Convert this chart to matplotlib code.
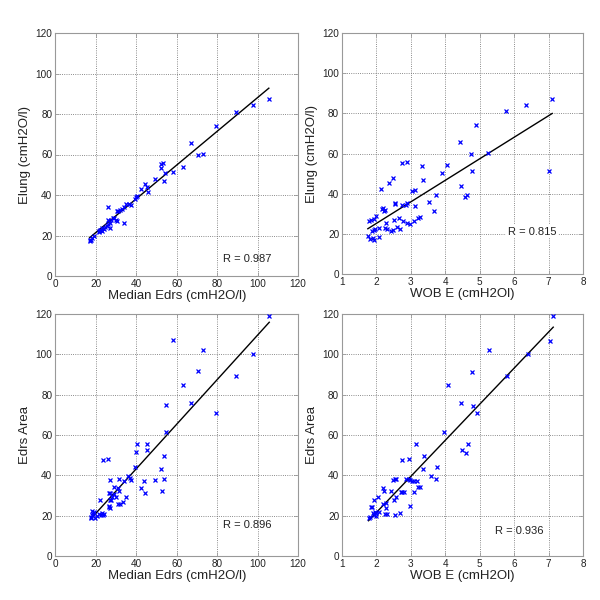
import numpy as np
import matplotlib
matplotlib.use('Agg')
import matplotlib.pyplot as plt

plt.rcParams['font.family'] = ['Liberation Sans', 'DejaVu Sans']

# panel 1: Median Edrs vs Elung
edrs1 = [105.5, 97.7, 89.5, 79.3, 73.0, 70.5, 67.2, 63.1, 58.2, 54.4, 53.9, 53.4, 52.2, 52.2, 49.3,
         44.3, 45.2, 45.8, 42.4, 39.9, 39.6, 36.3, 35.1, 34.0, 33.1, 32.1, 31.2, 30.3, 33.8, 26.2,
         30.7, 30.2, 28.4, 27.7, 26.9, 26.2, 25.5, 27.0, 25.9, 23.2, 22.6, 21.8, 22.3, 23.1, 23.9,
         19.0, 18.1, 17.6, 17.3, 17.0, 24.5, 28.9, 21.5, 37.5, 40.5]
elung1 = [87.2, 84.2, 81.2, 74.3, 60.3, 59.9, 65.9, 54.0, 51.2, 51.0, 46.7, 56.0, 55.3, 53.2, 47.9,
          45.6, 44.1, 41.6, 42.8, 39.1, 38.0, 35.8, 35.5, 34.2, 33.3, 32.8, 32.0, 32.2, 26.2, 34.3,
          27.2, 27.6, 28.4, 27.9, 26.2, 25.6, 24.8, 23.8, 27.6, 23.8, 22.9, 22.3, 22.6, 22.3, 23.1,
          19.6, 19.0, 18.0, 17.7, 17.3, 24.0, 28.6, 21.5, 35.2, 39.3]

# panel 2: WOB E vs Elung
wob2 = [7.1, 6.35, 5.77, 4.9, 5.25, 4.73, 4.42, 4.05, 3.9, 4.78, 7.0, 4.44, 4.63, 4.57, 3.72,
        3.68, 3.53, 3.36, 3.33, 2.89, 2.75, 2.47, 2.36, 2.14, 3.02, 3.11, 2.54, 2.55, 2.89, 2.86,
        2.75, 3.13, 2.17, 2.23, 2.2, 2.25, 1.99, 1.83, 1.92, 1.77, 2.52, 2.65, 2.27, 2.77, 2.9,
        2.97, 3.08, 3.2, 3.25, 2.07, 1.97, 2.25, 2.3, 2.47, 2.42, 2.6, 2.69, 1.87, 1.92, 1.75,
        1.82, 1.9, 1.93, 2.07]
elung2 = [87.3, 84.0, 81.2, 74.2, 60.1, 59.8, 65.7, 54.1, 50.1, 51.1, 51.1, 44.1, 39.3, 38.2, 39.2,
          31.2, 36.0, 46.8, 53.8, 55.9, 55.3, 47.8, 45.6, 42.5, 41.5, 41.7, 35.4, 34.7, 35.4, 34.2,
          34.2, 34.0, 32.5, 31.5, 33.0, 32.0, 28.9, 27.0, 27.6, 26.6, 27.2, 28.0, 25.7, 26.4, 25.4,
          25.2, 26.4, 27.9, 28.4, 23.2, 22.4, 22.9, 22.6, 22.2, 21.6, 23.7, 22.7, 21.7, 22.0, 19.1,
          17.4, 17.9, 17.1, 18.3]

# panel 3: Median Edrs vs Edrs Area
edrs3 = [105.7, 97.6, 89.3, 79.3, 73.2, 70.4, 67.1, 63.1, 58.2, 54.6, 54.6, 53.9, 53.6, 52.4, 52.6,
         49.3, 45.3, 45.2, 40.5, 40.0, 39.2, 43.7, 42.4, 44.5, 36.1, 36.8, 37.3, 34.1, 31.3, 34.9,
         33.3, 31.8, 30.8, 27.2, 30.8, 31.3, 28.8, 26.4, 27.0, 28.8, 29.8, 27.9, 27.2, 27.5, 23.6,
         25.9, 22.3, 26.4, 27.2, 26.8, 19.0, 17.5, 18.0, 18.5, 19.5, 20.5, 21.5, 22.5, 23.0, 23.5,
         24.0, 17.8, 18.3]
area3 = [119.0, 100.1, 89.2, 70.7, 102.3, 91.5, 75.8, 84.9, 106.8, 74.8, 61.7, 49.7, 38.1, 43.0, 32.1,
         37.9, 55.3, 52.5, 55.3, 51.5, 44.2, 37.1, 33.8, 31.4, 39.7, 38.6, 37.9, 37.1, 38.2, 29.3,
         26.6, 25.8, 26.0, 37.6, 33.8, 32.1, 34.3, 31.4, 31.4, 31.0, 29.3, 29.3, 27.6, 28.0, 47.5,
         48.2, 27.6, 24.3, 24.0, 24.8, 21.8, 19.5, 20.5, 21.0, 19.0, 20.0, 21.0, 20.2, 21.5, 20.5,
         21.0, 19.0, 22.5]

# panel 4: WOB E vs Edrs Area
wob4 = [7.13, 7.03, 6.4, 5.79, 5.26, 4.77, 4.08, 4.44, 4.8, 4.93, 3.95, 4.66, 4.48, 4.61, 3.14,
        3.39, 3.75, 3.35, 3.58, 3.72, 2.93, 2.73, 3.17, 3.08, 3.03, 2.87, 2.93, 2.98, 2.53, 2.57,
        2.49, 3.1, 3.22, 3.26, 2.75, 2.79, 2.7, 2.98, 2.43, 2.5, 2.58, 2.18, 2.23, 2.29, 2.19,
        2.04, 1.92, 1.83, 1.87, 2.29, 2.3, 2.25, 2.53, 2.67, 1.9, 1.95, 2.0, 2.08, 1.77, 1.82,
        1.92, 2.0]
area4 = [118.7, 106.4, 100.0, 89.2, 102.1, 91.2, 84.7, 75.8, 74.6, 70.7, 61.7, 55.3, 52.6, 51.3, 55.3,
         49.5, 44.4, 43.0, 39.7, 38.4, 48.3, 47.7, 37.2, 37.1, 37.1, 38.0, 38.0, 37.5, 38.0, 38.3,
         37.8, 31.8, 34.3, 34.3, 32.0, 31.8, 32.0, 25.0, 32.1, 28.0, 29.3, 33.8, 32.1, 26.3, 26.0,
         29.3, 27.6, 24.5, 24.5, 23.8, 21.0, 21.0, 20.4, 21.4, 21.5, 21.8, 21.2, 21.8, 19.0, 19.5,
         20.5, 20.0]

r_labels = ['R = 0.987', 'R = 0.815', 'R = 0.896', 'R = 0.936']
xlabels = ['Median Edrs (cmH2O/l)', 'WOB E (cmH2Ol)', 'Median Edrs (cmH2O/l)', 'WOB E (cmH2Ol)']
ylabels = ['Elung (cmH2O/l)', 'Elung (cmH2O/l)', 'Edrs Area', 'Edrs Area']

panels = [(edrs1, elung1), (wob2, elung2), (edrs3, area3), (wob4, area4)]
rects = [[0.092, 0.54, 0.405, 0.405], [0.57, 0.543, 0.402, 0.402],
         [0.092, 0.073, 0.405, 0.404], [0.57, 0.073, 0.402, 0.404]]
r_pos = [(83, 8.6, False), (5.81, 21.2, True), (83, 15.2, False), (5.45, 12.7, False)]

fig = plt.figure(figsize=(6, 6), dpi=100)

for i, (x, y) in enumerate(panels):
    ax = fig.add_axes(rects[i])
    x = np.array(x)
    y = np.array(y)
    ax.plot(x, y, 'x', color='#0000ff', markersize=3.2, markeredgewidth=0.9, zorder=3)
    k, b = np.polyfit(x, y, 1)
    xs = np.array([x.min(), x.max()])
    ax.plot(xs, k * xs + b, color='black', lw=1, zorder=2)

    if i % 2 == 0:
        ax.set_xlim(0, 120)
        ax.set_xticks(range(0, 121, 20))
    else:
        ax.set_xlim(1, 8)
        ax.set_xticks(range(1, 9))
    ax.set_ylim(0, 120)
    ax.set_yticks(range(0, 121, 20))

    ax.grid(True, linestyle=':', color='#666666', linewidth=0.6)
    ax.set_axisbelow(True)
    for s in ax.spines.values():
        s.set_color('#999999')
        s.set_linewidth(0.8)
    ax.tick_params(direction='in', length=3, width=0.6, color='#999999', labelsize=7.2,
                   labelcolor='#222222', top=True, right=True, pad=2)
    ax.set_xlabel(xlabels[i], fontsize=9.5, color='#222222', labelpad=1)
    ax.set_ylabel(ylabels[i], fontsize=9.5, color='#222222', labelpad=3)

    tx, ty, boxed = r_pos[i]
    kw = {}
    if boxed:
        kw['bbox'] = dict(facecolor='white', edgecolor='none', pad=1)
    ax.text(tx, ty, r_labels[i], fontsize=8, color='#222222', va='center', ha='left', **kw)

fig.savefig('out.png', dpi=100)
